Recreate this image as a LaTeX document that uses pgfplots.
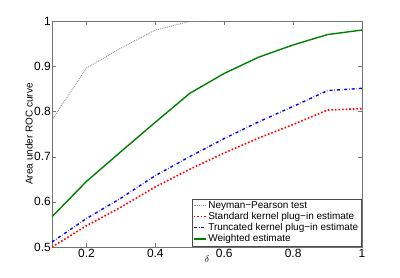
\documentclass[border=0pt]{standalone}
\usepackage{fontspec}
\setmainfont{Liberation Sans}
\usepackage{pgfplots}
\pgfplotsset{compat=1.18}
\begin{document}
\begin{tikzpicture}
\begin{axis}[
  scale only axis,
  width=310bp, height=226bp,
  xmin=0.1, xmax=1, ymin=0.5, ymax=1,
  xtick={0.2,0.4,0.6,0.8,1},
  ytick={0.5,0.6,0.7,0.8,0.9,1},
  xticklabels={0.2,0.4,0.6,0.8,1},
  yticklabels={0.5,0.6,0.7,0.8,0.9,1},
  tick align=inside,
  axis line style={black!55, line width=0.7pt},
  tick style={black!55},
  major tick length=4bp,
  tick label style={font=\fontsize{12}{14}\selectfont},
  yticklabel style={inner sep=1pt},
  xticklabel style={inner sep=2pt},
  xlabel={$\delta$},
  ylabel={Area under ROC curve},
  label style={font=\fontsize{10}{12}\selectfont},
  xlabel style={yshift=8bp},
  ylabel style={yshift=-3bp},
  legend style={at={(1,0)}, anchor=south east, xshift=-1bp, yshift=1bp,
    font=\fontsize{10}{11}\selectfont, draw=black!70, inner sep=0.5pt, row sep=-1.5pt, cells={anchor=west}},
  legend cell align=left,
  legend image code/.code={\draw[#1] (0bp,0bp) -- (12bp,0bp);},
]
\addplot[black!45, densely dotted, line width=0.9pt] coordinates {
(0.1,0.781) (0.2,0.896) (0.3,0.94) (0.4,0.98) (0.5,0.999) (0.6,1.0) (0.7,1.0) (0.8,1.0) (0.9,1.0) (1.0,1.0)};
\addlegendentry{Neyman−Pearson test}
\addplot[red, dotted, line width=1.6pt] coordinates {
(0.1,0.50) (0.2,0.547) (0.3,0.588) (0.4,0.633) (0.5,0.672) (0.6,0.708) (0.7,0.741) (0.8,0.771) (0.9,0.803) (1.0,0.806)};
\addlegendentry{Standard kernel plug−in estimate}
\addplot[blue, dash dot, line width=1.4pt] coordinates {
(0.1,0.511) (0.2,0.563) (0.3,0.608) (0.4,0.658) (0.5,0.700) (0.6,0.740) (0.7,0.777) (0.8,0.811) (0.9,0.846) (1.0,0.851)};
\addlegendentry{Truncated kernel plug−in estimate}
\addplot[green!50!black, line width=1.4pt] coordinates {
(0.1,0.567) (0.2,0.645) (0.3,0.711) (0.4,0.776) (0.5,0.840) (0.6,0.884) (0.7,0.920) (0.8,0.947) (0.9,0.970) (1.0,0.980)};
\addlegendentry{Weighted estimate}
\end{axis}
\path (current axis.south west) ++(-52bp,-31bp) rectangle ++(400bp,278bp);
\end{tikzpicture}
\end{document}
